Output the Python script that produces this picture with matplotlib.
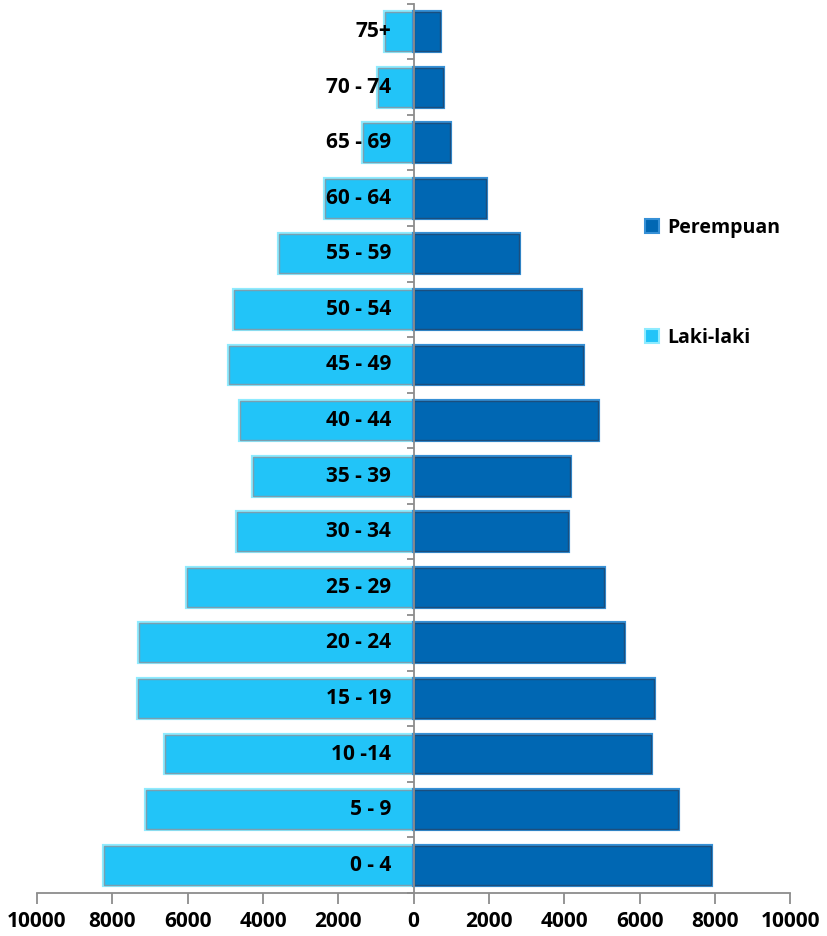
import matplotlib.pyplot as plt
import matplotlib.patheffects as pe
from matplotlib.patches import Patch
from matplotlib.ticker import FixedLocator, FuncFormatter

age_groups = ['0 - 4', '5 - 9', '10 -14', '15 - 19', '20 - 24', '25 - 29', '30 - 34', '35 - 39',
              '40 - 44', '45 - 49', '50 - 54', '55 - 59', '60 - 64', '65 - 69', '70 - 74', '75+']
laki_laki = [8220, 7115, 6590, 7325, 7300, 6010, 4690, 4270,
             4610, 4900, 4770, 3580, 2345, 1345, 950, 765]
perempuan = [7880, 7010, 6300, 6380, 5590, 5060, 4110, 4140,
             4900, 4505, 4430, 2790, 1925, 975, 790, 710]
x_ticks = [-10000, -8000, -6000, -4000, -2000, 0, 2000, 4000, 6000, 8000, 10000]

font = 'Open Sans'
light = '#22C4F8'
light_edge = '#8EEBFF'
dark = '#0067B3'
dark_edge = '#3690D6'
axis_grey = '#8C8C8C'

fig = plt.figure(figsize=(8.27, 9.36), dpi=100)
ax = fig.add_axes([0.0447, 0.046, 0.911, 0.95])

pos = list(range(len(age_groups)))
male_bars = ax.barh(pos, [-v for v in laki_laki], height=0.7, color=light,
                    edgecolor=light_edge, linewidth=2.5, zorder=2)
female_bars = ax.barh(pos, perempuan, height=0.7, color=dark,
                      edgecolor=dark_edge, linewidth=2.5, zorder=2)
for b in male_bars:
    b.set_path_effects([pe.Stroke(linewidth=3, foreground=light_edge),
                        pe.Stroke(linewidth=1, foreground='#7A9FB0')])
for b in female_bars:
    b.set_path_effects([pe.Stroke(linewidth=3, foreground=dark_edge),
                        pe.Stroke(linewidth=1, foreground='#1B4E7E')])

ax.set_xlim(-10000, 10000)
ax.set_ylim(-0.5, len(age_groups) - 0.5)

# category labels sit just left of the zero line
for p, lab in zip(pos, age_groups):
    ax.text(-600, p, lab, ha='right', va='center', fontsize=15,
            fontweight='bold', family=font, zorder=3)

for s in ['top', 'right']:
    ax.spines[s].set_visible(False)
ax.spines['left'].set_position(('data', 0))
ax.spines['left'].set_color(axis_grey)
ax.spines['bottom'].set_color(axis_grey)
ax.spines['left'].set_linewidth(1.3)
ax.spines['bottom'].set_linewidth(1.3)
ax.spines['left'].set_zorder(4)

ax.set_yticks([])
ax.yaxis.set_minor_locator(FixedLocator([p - 0.5 for p in pos] + [len(pos) - 0.5]))
ax.tick_params(axis='y', which='minor', direction='out', length=5, width=1.3, color=axis_grey)

ax.set_xticks(x_ticks)
ax.xaxis.set_major_formatter(FuncFormatter(lambda v, _: f'{abs(int(v))}'))
ax.tick_params(axis='x', direction='out', length=8, width=1.3, color=axis_grey, pad=5)
for t in ax.get_xticklabels():
    t.set_fontsize(15)
    t.set_fontweight('bold')
    t.set_family(font)

handles = [Patch(facecolor=dark, edgecolor=dark_edge, linewidth=1.5),
           Patch(facecolor=light, edgecolor=light_edge, linewidth=1.5)]
fig.legend(handles, ['Perempuan', 'Laki-laki'], loc='upper left',
           bbox_to_anchor=(0.768, 0.778), frameon=False, borderpad=0,
           handlelength=0.75, handleheight=0.75, handletextpad=0.4,
           labelspacing=4.65, prop={'family': font, 'weight': 'bold', 'size': 14})

fig.savefig('out.png', dpi=100)
